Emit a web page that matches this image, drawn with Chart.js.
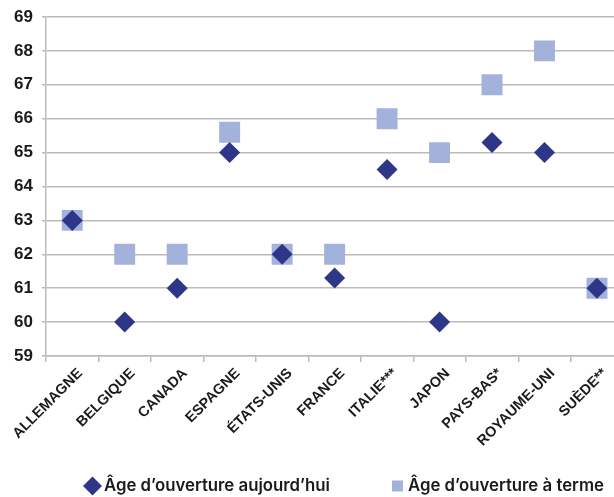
<!DOCTYPE html>
<html lang="fr">
<head>
<meta charset="utf-8">
<title>Âge d’ouverture des droits à la retraite</title>
<script src="https://cdn.jsdelivr.net/npm/chart.js@4/dist/chart.umd.min.js"></script>
<style>
  html, body { margin: 0; padding: 0; background: #ffffff; overflow: hidden; }
  #wrap { position: relative; width: 638px; height: 497px; }
</style>
</head>
<body>
<div id="wrap"><canvas id="chart" width="638" height="497"></canvas></div>
<script>
// Pays comparés
const countries = ['ALLEMAGNE', 'BELGIQUE', 'CANADA', 'ESPAGNE', 'ÉTATS-UNIS', 'FRANCE',
  'ITALIE***', 'JAPON', 'PAYS-BAS*', 'ROYAUME-UNI', 'SUÈDE**'];

// Âge d’ouverture des droits aujourd’hui
const ageToday = [63, 60, 61, 65, 62, 61.3, 64.5, 60, 65.3, 65, 61];

// Âge d’ouverture des droits à terme
const ageFuture = [63, 62, 62, 65.6, 62, 62, 66, 65, 67, 68, 61];

// Graduations de l’axe vertical
const yTicks = [59, 60, 61, 62, 63, 64, 65, 66, 67, 68, 69];

const seriesNames = ['Âge d’ouverture aujourd’hui', 'Âge d’ouverture à terme'];
const darkBlue = '#2e3787';
const lightBlue = '#a3b2db';
const gridGrey = '#bbbbbb';

// Légende dessinée sous le graphique
const bottomLegend = {
  id: 'bottomLegend',
  afterDraw(chart) {
    const ctx = chart.ctx;
    const y = 486;
    ctx.save();
    ctx.font = '600 16.8px Inter, "Open Sans", sans-serif';
    ctx.textBaseline = 'middle';
    ctx.textAlign = 'left';

    // losange
    ctx.beginPath();
    ctx.fillStyle = darkBlue;
    ctx.moveTo(92.5, y - 9.5);
    ctx.lineTo(102, y);
    ctx.lineTo(92.5, y + 9.5);
    ctx.lineTo(83, y);
    ctx.closePath();
    ctx.fill();
    ctx.fillStyle = '#1a1a1a';
    ctx.fillText(seriesNames[0], 104, y);

    // carré
    ctx.fillStyle = lightBlue;
    ctx.fillRect(392, y - 5.5, 11, 11);
    ctx.fillStyle = '#1a1a1a';
    ctx.fillText(seriesNames[1], 408, y);
    ctx.restore();
  }
};

new Chart(document.getElementById('chart'), {
  type: 'line',
  data: {
    labels: countries,
    datasets: [
      {
        label: seriesNames[0],
        data: ageToday,
        showLine: false,
        pointStyle: 'rectRot',
        pointRadius: 10.5,
        pointHoverRadius: 10.5,
        backgroundColor: darkBlue,
        borderColor: darkBlue,
        borderWidth: 0
      },
      {
        label: seriesNames[1],
        data: ageFuture,
        showLine: false,
        pointStyle: 'rect',
        pointRadius: 14.8,
        pointHoverRadius: 14.8,
        backgroundColor: lightBlue,
        borderColor: lightBlue,
        borderWidth: 0
      }
    ]
  },
  options: {
    responsive: false,
    animation: false,
    events: [],
    layout: { padding: { left: 0, right: 4, top: 17, bottom: 0 } },
    plugins: {
      legend: { display: false },
      tooltip: { enabled: false }
    },
    scales: {
      x: {
        offset: true,
        afterFit(scale) {
          scale.height = 141;
          scale.paddingLeft = 0;
          scale.paddingRight = 0;
        },
        grid: {
          offset: true,
          drawOnChartArea: false,
          drawTicks: true,
          tickLength: 6,
          color: gridGrey,
          lineWidth: 1.5
        },
        border: { display: true, color: gridGrey, width: 1.5 },
        ticks: {
          autoSkip: false,
          minRotation: 45,
          maxRotation: 45,
          padding: 3,
          labelOffset: 8,
          color: '#1a1a1a',
          font: { family: '"Liberation Sans", Arial, sans-serif', size: 14.5, weight: 'bold' }
        }
      },
      y: {
        min: 59,
        max: 69,
        afterBuildTicks(scale) {
          scale.ticks = yTicks.map(v => ({ value: v }));
        },
        afterFit(scale) {
          scale.width = 46;
          scale.paddingTop = 0;
          scale.paddingBottom = 0;
        },
        grid: {
          color: gridGrey,
          lineWidth: 1.5,
          drawTicks: true,
          tickLength: 4
        },
        border: { display: true, color: gridGrey, width: 1.5 },
        ticks: {
          padding: 9,
          color: '#1a1a1a',
          font: { family: '"Liberation Sans", Arial, sans-serif', size: 17, weight: 'bold' }
        }
      }
    }
  },
  plugins: [bottomLegend]
});
</script>
</body>
</html>
